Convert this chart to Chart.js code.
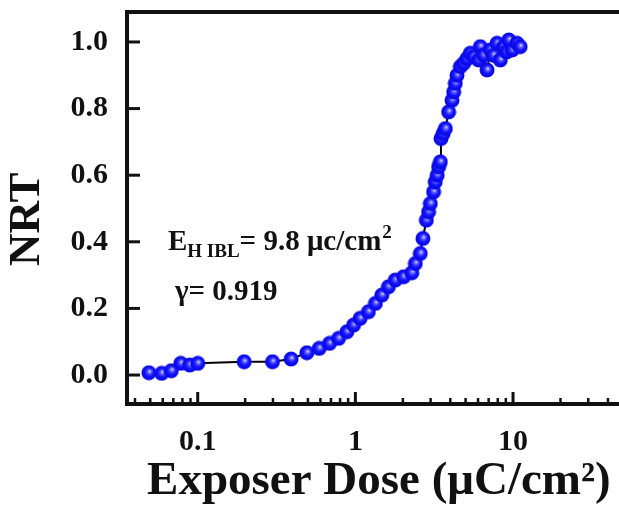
<!DOCTYPE html>
<html>
<head>
<meta charset="utf-8">
<script src="https://cdn.jsdelivr.net/npm/chart.js@4.4.0/dist/chart.umd.min.js"></script>
<style>
  html, body { margin: 0; padding: 0; background: #fff; }
  #wrap { width: 619px; height: 510px; }
</style>
</head>
<body>
<div id="wrap"><canvas id="c" width="619" height="510"></canvas></div>
<script>
// exposure dose (uC/cm2) and normalised remaining thickness
const doseX = [
  0.049, 0.059, 0.068, 0.078, 0.089, 0.100, 0.197, 0.298, 0.391, 0.492,
  0.589, 0.685, 0.782, 0.884, 0.973, 1.07, 1.21, 1.34, 1.47, 1.62,
  1.79, 2.02, 2.28, 2.40, 2.58, 2.68, 2.82, 2.91, 2.99, 3.13,
  3.21, 3.30, 3.37, 3.46, 3.49, 3.60, 3.72, 3.90, 4.10, 4.20,
  4.30, 4.41, 4.63, 4.86, 5.10, 5.35, 5.62, 6.05, 6.20, 6.50,
  6.84, 7.18, 7.50, 7.91, 8.30, 8.70, 9.10, 9.40, 9.86, 10.6, 11.1
];
const nrtY = [
  0.007, 0.005, 0.013, 0.035, 0.030, 0.035, 0.040, 0.040, 0.048, 0.067,
  0.080, 0.095, 0.110, 0.130, 0.150, 0.170, 0.190, 0.215, 0.240, 0.265,
  0.285, 0.295, 0.307, 0.335, 0.365, 0.410, 0.465, 0.490, 0.515, 0.550,
  0.580, 0.600, 0.625, 0.640, 0.710, 0.725, 0.740, 0.790, 0.825, 0.850,
  0.876, 0.900, 0.926, 0.936, 0.950, 0.966, 0.956, 0.946, 0.986, 0.960,
  0.916, 0.976, 0.960, 0.996, 0.946, 0.986, 0.970, 1.006, 0.976, 0.996, 0.986
];
const yTicks = [0.0, 0.2, 0.4, 0.6, 0.8, 1.0];
const xMajor = [0.1, 1, 10];
const xLabel = 'Exposer Dose (\u03BCC/cm\u00B2)';
const yLabel = 'NRT';

const SERIF = '"Liberation Serif", "Times New Roman", serif';
const INK = '#111';

// shaded blue ball used as the marker
function ball(d) {
  const cv = document.createElement('canvas');
  cv.width = d; cv.height = d;
  const g = cv.getContext('2d');
  const r = d / 2;
  const grad = g.createRadialGradient(r + 1, r - 1.5, 0, r, r, r);
  grad.addColorStop(0, '#f4f4ff');
  grad.addColorStop(0.2, '#7070ff');
  grad.addColorStop(0.5, '#1818ff');
  grad.addColorStop(0.85, '#0505e8');
  grad.addColorStop(1, '#2a2ad0');
  g.fillStyle = grad;
  g.beginPath();
  g.arc(r, r, r - 0.5, 0, Math.PI * 2);
  g.fill();
  return cv;
}

const frame = {
  id: 'frame',
  afterDraw(chart) {
    const { ctx, chartArea: a, scales } = chart;
    ctx.save();
    ctx.strokeStyle = INK;
    ctx.lineCap = 'butt';
    // inward ticks
    ctx.lineWidth = 3;
    scales.y.ticks.forEach(t => {
      const py = scales.y.getPixelForValue(t.value);
      ctx.beginPath();
      ctx.moveTo(a.left, py);
      ctx.lineTo(a.left + 13, py);
      ctx.stroke();
    });
    scales.x.ticks.forEach(t => {
      const px = scales.x.getPixelForValue(t.value);
      const major = xMajor.some(m => Math.abs(m - t.value) < 1e-9);
      ctx.lineWidth = major ? 3 : 2.5;
      ctx.beginPath();
      ctx.moveTo(px, a.bottom);
      ctx.lineTo(px, a.bottom - (major ? 12 : 6));
      ctx.stroke();
    });
    // axis frame (right side is cut off in the original)
    ctx.lineWidth = 4;
    ctx.beginPath();
    ctx.moveTo(chart.width, a.top);
    ctx.lineTo(a.left, a.top);
    ctx.lineTo(a.left, a.bottom);
    ctx.lineTo(chart.width, a.bottom);
    ctx.stroke();

    // annotation
    ctx.fillStyle = INK;
    ctx.textBaseline = 'alphabetic';
    let x = 168;
    ctx.font = 'bold 29px ' + SERIF;
    ctx.fillText('E', x, 250); x += ctx.measureText('E').width;
    ctx.font = 'bold 19px ' + SERIF;
    ctx.fillText('H IBL', x, 257); x += ctx.measureText('H IBL').width;
    ctx.font = 'bold 29px ' + SERIF;
    const rest = '= 9.8 \u03BCc/cm';
    ctx.fillText(rest, x, 250); x += ctx.measureText(rest).width + 1;
    ctx.font = 'bold 19px ' + SERIF;
    ctx.fillText('2', x, 238);
    ctx.font = 'bold 29px ' + SERIF;
    ctx.fillText('\u03B3= 0.919', 175, 300);
    ctx.restore();
  }
};

new Chart(document.getElementById('c'), {
  type: 'scatter',
  data: {
    datasets: [{
      data: doseX.map((v, i) => ({ x: v, y: nrtY[i] })),
      showLine: true,
      borderColor: '#000',
      borderWidth: 2,
      pointStyle: ball(16),
      pointRadius: 8,
      pointHoverRadius: 8,
      clip: false
    }]
  },
  options: {
    responsive: false,
    animation: false,
    events: [],
    layout: { autoPadding: false, padding: { left: 0, top: 12, right: 0, bottom: 0 } },
    plugins: { legend: { display: false }, tooltip: { enabled: false } },
    scales: {
      x: {
        type: 'logarithmic',
        min: 0.0356,
        max: 47,
        grid: { display: false, drawTicks: false },
        border: { display: false },
        afterBuildTicks: (s) => {
          const out = [];
          for (let e = -2; e <= 1; e++) {
            for (let m = 1; m <= 9; m++) {
              const v = +(m * Math.pow(10, e)).toPrecision(3);
              if (v >= s.min && v <= s.max) out.push({ value: v });
            }
          }
          s.ticks = out;
        },
        afterFit: (s) => { s.height = 106; s.paddingLeft = 0; s.paddingRight = 0; },
        ticks: {
          autoSkip: false,
          maxRotation: 0,
          padding: 20,
          color: INK,
          font: { family: SERIF, size: 30, weight: 'bold' },
          callback: (v) => xMajor.some(m => Math.abs(m - v) < 1e-9) ? String(v) : ''
        },
        title: {
          display: true,
          text: ' ' + xLabel,
          color: INK,
          padding: 0,
          font: { family: SERIF, size: 47, weight: 'bold' }
        }
      },
      y: {
        min: -0.087,
        max: 1.09,
        grid: { display: false, drawTicks: false },
        border: { display: false },
        afterBuildTicks: (s) => { s.ticks = yTicks.map(v => ({ value: v })); },
        afterFit: (s) => { s.width = 127; s.paddingTop = 0; s.paddingBottom = 0; },
        ticks: {
          padding: 19,
          color: INK,
          font: { family: SERIF, size: 30, weight: 'bold' },
          callback: (v) => v.toFixed(1)
        },
        title: {
          display: true,
          text: yLabel + '  ',
          color: INK,
          padding: 0,
          font: { family: SERIF, size: 45, weight: 'bold' }
        }
      }
    }
  },
  plugins: [frame]
});
</script>
</body>
</html>
